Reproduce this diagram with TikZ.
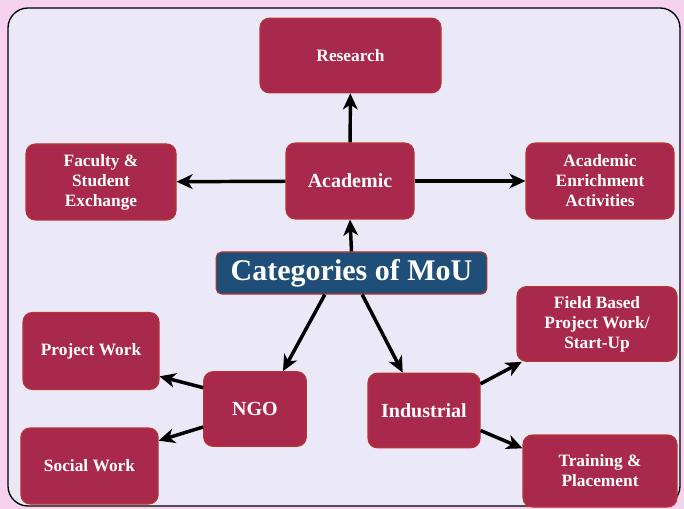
\documentclass[tikz,border=0pt]{standalone}
\usepackage{fontspec}
\setmainfont{Liberation Serif}
\usepackage{xcolor}
\usepackage{tikz}
\usetikzlibrary{arrows.meta,positioning,calc}
\definecolor{mouRed}{HTML}{A8294B}
\definecolor{mouEdge}{HTML}{B8352F}
\definecolor{mouBlue}{HTML}{1F4E79}
\definecolor{mouBack}{HTML}{EBE8F8}
\definecolor{mouPink}{HTML}{F7D2EE}
\tikzset{
    box/.style={
        draw=mouEdge,
        line width=0.8pt,
        rounded corners=7pt,
        align=center,
        minimum height=57pt,
        minimum width=103pt,
        fill=mouRed,
        text=white,
        font=\bfseries\fontsize{13}{15}\selectfont
    },
    mainbox/.style={
        box,
        font=\bfseries\fontsize{15}{17}\selectfont
    },
    titlebox/.style={
        draw=mouEdge,
        line width=0.8pt,
        rounded corners=4pt,
        align=center,
        minimum height=31.5pt,
        minimum width=203pt,
        fill=mouBlue,
        text=white,
        font=\bfseries\fontsize{22.5}{26}\selectfont
    },
    flow/.style={-{Stealth[length=12pt,width=11pt,inset=3.5pt]}, line width=2.6pt}
}

\begin{document}
\begin{tikzpicture}[x=0.75pt,y=-0.75pt]
        \fill[mouPink] (0,0) rectangle (684,509);
        \useasboundingbox (0,0) rectangle (684,509);
        \draw[fill=mouBack, line width=1pt, rounded corners=15pt] (8,8) rectangle (680,506);
        % title and academic branch
        \node[titlebox] (mou) at (351.5,273) {Categories of MoU};
        \node[mainbox, minimum width=96pt] (academic) at (350,181) {Academic};
        \node[box, minimum width=135.75pt, minimum height=56pt] (research) at (350.5,55.5) {Research};
        \node[box, minimum width=112.5pt] (faculty) at (101,182) {Faculty \&\\Student\\Exchange};
        \node[box, minimum width=111pt] (enrich) at (600,181) {Academic\\Enrichment\\Activities};
        % NGO branch
        \node[mainbox, minimum width=77pt, minimum height=56pt] (ngo) at (255,409) {NGO};
        \node[box, minimum width=102pt, minimum height=57.75pt] (project) at (91,351) {Project Work};
        \node[box] (social) at (89.5,466) {Social Work};
        % industrial branch
        \node[mainbox, minimum width=84pt, minimum height=56pt] (industrial) at (424,410.5) {Industrial};
        \node[box, minimum width=120pt, minimum height=56pt] (field) at (597,324) {Field Based\\Project Work/\\Start-Up};
        \node[box, minimum width=115.5pt, minimum height=54pt] (training) at (600,471) {Training \&\\Placement};
        \draw[flow] (academic) -- (research);
        \draw[flow] (academic) -- (faculty);
        \draw[flow] (academic) -- (enrich);
        \draw[flow] (mou.north) -- (academic.south);
        \draw[flow] ([xshift=-20pt]mou.south) -- ([xshift=21pt]ngo.north);
        \draw[flow] ([xshift=8pt]mou.south) -- ([xshift=-16pt]industrial.north);
        \draw[flow] ([yshift=16pt]ngo.west) -- ([yshift=-19pt]project.east);
        \draw[flow] ([yshift=-13.5pt]ngo.west) -- ([yshift=19pt]social.east);
        \draw[flow] ([yshift=20pt]industrial.east) -- ([xshift=4pt]field.south west);
        \draw[flow] ([yshift=-15pt]industrial.east) -- ([yshift=17pt]training.west);
    \end{tikzpicture}
\end{document}
